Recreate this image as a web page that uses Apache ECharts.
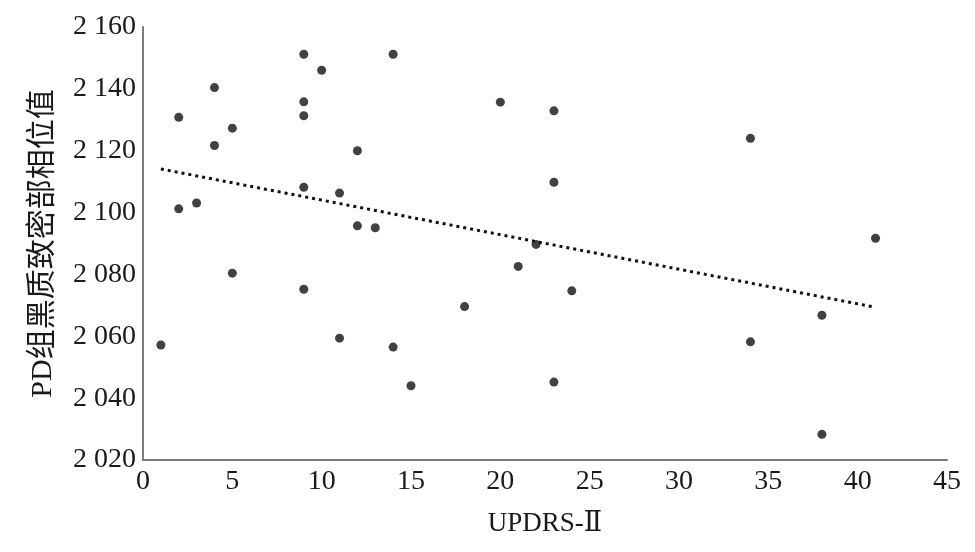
<!DOCTYPE html>
<html>
<head>
<meta charset="utf-8">
<script src="https://cdn.jsdelivr.net/npm/echarts@6/dist/echarts.min.js"></script>
<style>
html,body{margin:0;padding:0;background:#fff;}
#chart{width:975px;height:552px;}
</style>
</head>
<body>
<div id="chart"></div>
<script>
// UPDRS-II scores (x) and PD-group substantia nigra compacta phase values (y)
const updrsScores = [1, 2, 2, 3, 4, 4, 5, 5, 9, 9, 9, 9, 9, 10, 11, 11, 12, 12, 13, 14, 14, 15, 18, 20, 21, 22, 23, 23, 23, 24, 34, 34, 38, 38, 41];
const phaseValues = [2057.2, 2130.8, 2101.2, 2103.1, 2140.4, 2121.7, 2127.3, 2080.4, 2151.2, 2135.8, 2131.3, 2108.2, 2075.2, 2146.0, 2106.3, 2059.4, 2120.0, 2095.7, 2095.1, 2151.2, 2056.5, 2044.0, 2069.6, 2135.7, 2082.6, 2089.7, 2132.9, 2109.8, 2045.2, 2074.7, 2124.0, 2058.2, 2066.8, 2028.3, 2091.7];
// trend line endpoints
const trendX = [1, 40.8];
const trendY = [2114.1, 2069.6];

const xAxisName = 'UPDRS-Ⅱ';
const yAxisName = 'PD组黑质致密部相位值';

const serif = '"Liberation Serif", "Times New Roman", "DejaVu Serif", "Noto Sans CJK SC", serif';

const scatterData = updrsScores.map((x, i) => [x, phaseValues[i]]);
const trendData = trendX.map((x, i) => [x, trendY[i]]);

function fmtThousands(v) {
  const s = String(Math.round(v));
  if (s.length <= 3) return s;
  return s.slice(0, s.length - 3) + ' ' + s.slice(s.length - 3);
}

const chart = echarts.init(document.getElementById('chart'), null, {renderer: 'canvas'});
chart.setOption({
  animation: false,
  backgroundColor: '#ffffff',
  grid: {left: 143, right: 28, top: 27, bottom: 92, containLabel: false},
  xAxis: {
    type: 'value',
    min: 0, max: 45, interval: 5,
    name: xAxisName,
    nameLocation: 'middle',
    nameGap: 50,
    nameTextStyle: {fontFamily: serif, fontSize: 27, color: '#1a1a1a'},
    axisLine: {show: true, onZero: false, lineStyle: {color: '#7a7a7a', width: 2}},
    axisTick: {show: false},
    splitLine: {show: false},
    axisLabel: {fontFamily: serif, fontSize: 28, color: '#1a1a1a', margin: 8}
  },
  yAxis: {
    type: 'value',
    min: 2020, max: 2160, interval: 20,
    name: yAxisName,
    nameLocation: 'middle',
    nameGap: 85,
    nameRotate: 90,
    nameTextStyle: {fontFamily: serif, fontSize: 30, color: '#1a1a1a'},
    axisLine: {show: true, onZero: false, lineStyle: {color: '#7a7a7a', width: 2}},
    axisTick: {show: false},
    splitLine: {show: false},
    axisLabel: {fontFamily: serif, fontSize: 28, color: '#1a1a1a', margin: 7, formatter: fmtThousands}
  },
  series: [
    {
      type: 'line',
      data: trendData,
      showSymbol: false,
      symbol: 'none',
      lineStyle: {color: '#111', width: 3, type: [3, 4]},
      z: 1
    },
    {
      type: 'scatter',
      data: scatterData,
      symbol: 'circle',
      symbolSize: 9,
      itemStyle: {color: '#111'},
      z: 2
    }
  ]
});
</script>
</body>
</html>
